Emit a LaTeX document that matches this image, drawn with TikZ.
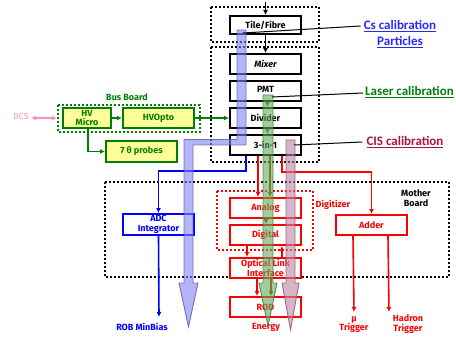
\documentclass[tikz,border=0pt]{standalone}
\usepackage{fontspec}
\setmainfont{Fira Sans}
\newfontfamily\calfont{Carlito}
\usetikzlibrary{arrows.meta,calc}
\definecolor{dkgreen}{RGB}{0,128,0}
\definecolor{boxyellow}{RGB}{255,255,153}
\definecolor{brn}{RGB}{153,51,0}
\definecolor{pinkdcs}{RGB}{255,140,200}
\definecolor{cisred}{RGB}{170,20,70}
\definecolor{csblue}{RGB}{40,40,255}
\definecolor{barblue}{RGB}{130,130,245}
\definecolor{barblueD}{RGB}{90,90,170}
\definecolor{bargreen}{RGB}{100,170,90}
\definecolor{bargreenD}{RGB}{60,120,60}
\definecolor{barpink}{RGB}{190,130,165}
\definecolor{barpinkD}{RGB}{130,90,110}
\begin{document}
\begin{tikzpicture}[x=1pt,y=-1pt,
  every node/.style={font=\bfseries\fontsize{9}{9.5}\selectfont, inner sep=0pt, align=center},
  blkbox/.style={draw=black, line width=2pt, fill=white, minimum width=71pt, minimum height=20pt},
  redbox/.style={draw=red, line width=2pt, fill=white, text=red, minimum width=71pt, minimum height=20pt},
  grnbox/.style={draw=dkgreen, line width=2pt, fill=boxyellow, text=dkgreen, minimum height=20pt},
  bluebox/.style={draw=blue, line width=2pt, fill=white, text=blue, minimum width=71pt, minimum height=21pt},
  dotbox/.style={line width=2pt, dash pattern=on 2pt off 2pt},
  arr/.style={line width=1.6pt, -{Latex[length=5pt,width=5pt]}},
  callbl/.style={font=\calfont\bfseries\fontsize{13}{14}\selectfont},
  calline/.style={line width=1pt, black},
  bar/.style={line width=0.9pt, fill opacity=0.6, draw opacity=0.8},
]
\useasboundingbox (0,0) rectangle (456,337);

% dotted containers
\draw[dotbox] (211,7) rectangle (319,42);
\draw[dotbox] (211,47) rectangle (319,162);
\draw[dotbox] (105,182) rectangle (449,277);
\draw[dotbox, red] (217,191) rectangle (313,250);
\draw[dotbox, dkgreen] (58,105) rectangle (200,132);

% PMT chain
\node[blkbox, minimum height=18pt] (tile) at (265.5,25) {Tile/Fibre};
\node[blkbox] (mixer) at (265.5,64) {\itshape Mixer};
\node[blkbox] (pmt) at (265.5,91) {\raisebox{3pt}{PMT}};
\node[blkbox] (divider) at (265.5,118) {Divider};
\node[blkbox] (t31) at (265.5,145) {3-in-1};

% motherboard
\node[redbox] (analog) at (265.5,208) {Analog};
\node[redbox] (digital) at (265.5,235) {Digital};
\node[redbox] (oli) at (265.5,268) {Optical Link\\Interface};
\node[redbox] (rod) at (265.5,307) {ROD};
\node[text=red] (energy) at (266,327) {Energy};
\node[redbox] (adder) at (371.5,225) {Adder};
\node[bluebox] (adc) at (158.5,224.5) {ADC\\Integrator};

% bus board
\node[grnbox, minimum width=48pt] (hvm) at (87,118) {HV\\Micro};
\node[grnbox, minimum width=71pt] (hvo) at (158.5,118) {HVOpto};
\node[grnbox, minimum width=71pt, minimum height=21pt] (probes) at (141.5,151.5) {7 θ probes};

% labels
\node[text=dkgreen] (busb) at (127,97) {Bus Board};
\node[text=pinkdcs, font=\fontsize{9}{9.5}\selectfont] (dcs) at (21,116) {DCS};
\node (mb) at (416,198) {Mother\\Board};
\node[text=red] (digl) at (333,205) {Digitizer};
\node[text=blue] (rob) at (142,327) {ROB MinBias};
\node[text=red] (mu) at (354,324.5) {μ\\Trigger};
\node[text=red] (had) at (408,324) {Hadron\\Trigger};

\node[callbl, text=csblue] (csa) at (400,26) {\underline{Cs calibration}};
\node[callbl, text=csblue] (csb) at (400,42) {\underline{Particles}};
\node[callbl, text=dkgreen] (laser) at (409.5,92) {\underline{Laser calibration}};
\node[callbl, text=cisred] (cis) at (405,142) {\underline{CIS calibration}};

% free ends
\coordinate (topin) at (265.5,2);
\coordinate (dcsend) at (57,118);
\coordinate (robend) at (159,317);
\coordinate (muend) at (354,312);
\coordinate (hadend) at (389,312);
\coordinate (csend) at (243,33);
\coordinate (lasend) at (272,97);
\coordinate (cisend) at (294,145);

% connectors
\draw[arr, line width=1.2pt] (topin) -- (tile.north);
\draw[arr, line width=1.2pt] (tile) -- (mixer);
\draw[arr, line width=1.2pt, bargreenD] ($(pmt.south)+(2,0)$) -- ($(divider.north)+(2,0)$);
\draw[arr, line width=1.2pt, bargreenD] ($(divider.south)+(2,0)$) -- ($(t31.north)+(2,0)$);

\draw[arr, dkgreen] (hvm) -- (hvo);
\draw[arr, dkgreen] (hvo) -- (divider);
\draw[arr, dkgreen] ($(hvm.south)+(1,0)$) |- (probes.west);
\draw[pinkdcs, line width=1.6pt, {Latex[length=5pt,width=5pt]}-{Latex[length=5pt,width=5pt]}] ($(dcs.east)+(2,2)$) -- (dcsend);

\draw[arr, blue] ($(t31.south west)+(17,0)$) -- ++(0,15) -| (adc.north);
\draw[arr, red] ($(t31.south west)+(29,0)$) -- ($(analog.north west)+(29,0)$);
\draw[arr, brn] ($(t31.south west)+(41,0)$) -- ($(analog.north west)+(41,0)$);
\draw[arr, red] ($(t31.south west)+(53,0)$) -- ++(0,16) -| (adder.north);
\draw[arr, brn] ($(analog.south west)+(37,0)$) -- ($(digital.north west)+(37,0)$);
\draw[arr, red] ($(digital.south west)+(18,0)$) -- ($(oli.north west)+(18,0)$);
\draw[arr, red] ($(oli.north west)+(53,0)$) -- ($(digital.south west)+(53,0)$);
\draw[arr, red] ($(oli.south west)+(28,0)$) -- ($(rod.north west)+(28,0)$);
\draw[arr, brn] ($(oli.south west)+(42,0)$) -- ($(rod.north west)+(42,0)$);
\draw[arr, blue] (adc.south) -- (robend);
\draw[arr, red] ($(adder.south west)+(18,0)$) -- (muend);
\draw[arr, red] ($(adder.south west)+(53,0)$) -- (hadend);

% calibration bars
\draw[bar, draw=barblueD, fill=barblue] (237,30) -- (246,30) -- (246,145) -- (193,145) -- (193,283) -- (198,283) -- (188.5,327) -- (179,283) -- (184,283) -- (184,139.5) -- (237,139.5) -- cycle;
\draw[bar, draw=bargreenD, fill=bargreen] (263,95) -- (273,95) -- (273,283) -- (277,283) -- (268,326) -- (259,283) -- (263,283) -- cycle;
\draw[bar, draw=barpinkD, fill=barpink] (286,140) -- (295,140) -- (295,283) -- (299,283) -- (290.5,330) -- (282,283) -- (286,283) -- cycle;

% calibration pointers
\draw[calline] ($(csa.west)+(-3,0)$) -- (csend);
\draw[calline] ($(laser.west)+(-2,1)$) -- (lasend);
\draw[calline] ($(cis.west)+(-4,0)$) -- (cisend);
\end{tikzpicture}
\end{document}
